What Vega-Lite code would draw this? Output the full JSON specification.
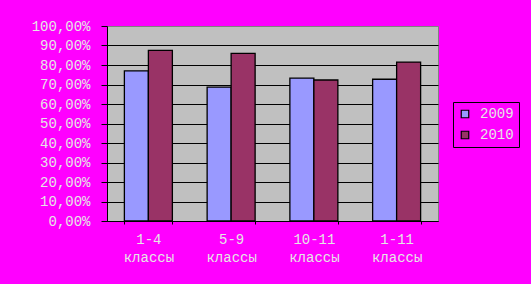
{
  "$schema": "https://vega.github.io/schema/vega-lite/v6.json",
  "autosize": "none",
  "width": 331,
  "height": 195,
  "padding": {"left": 107, "top": 26, "right": 93, "bottom": 63},
  "background": "#FF00FF",
  "data": {
    "values": [
      {"group": "1-4 классы", "year": "2009", "value": 0.77},
      {"group": "1-4 классы", "year": "2010", "value": 0.875},
      {"group": "5-9 классы", "year": "2009", "value": 0.687},
      {"group": "5-9 классы", "year": "2010", "value": 0.86},
      {"group": "10-11 классы", "year": "2009", "value": 0.733},
      {"group": "10-11 классы", "year": "2010", "value": 0.723},
      {"group": "1-11 классы", "year": "2009", "value": 0.727},
      {"group": "1-11 классы", "year": "2010", "value": 0.815}
    ]
  },
  "mark": {"type": "bar", "stroke": "#000000", "strokeWidth": 1.3},
  "encoding": {
    "x": {
      "field": "group",
      "type": "nominal",
      "sort": null,
      "scale": {"paddingInner": 0.42, "paddingOuter": 0.21},
      "axis": {
        "title": null,
        "labelAngle": 0,
        "labelExpr": "split(datum.label, ' ')",
        "labelLineHeight": 18,
        "labelPadding": 8,
        "tickBand": "extent",
        "tickSize": 3,
        "tickColor": "#000000",
        "domainColor": "#000000",
        "grid": false
      }
    },
    "xOffset": {"field": "year", "type": "nominal", "scale": {"paddingInner": 0, "paddingOuter": 0}},
    "y": {
      "field": "value",
      "type": "quantitative",
      "scale": {"domain": [0, 1], "nice": false},
      "axis": {
        "title": null,
        "values": [0, 0.1, 0.2, 0.3, 0.4, 0.5, 0.6, 0.7, 0.8, 0.9, 1],
        "labelExpr": "replace(format(datum.value, '.2%'), '.', ',')",
        "tickSize": 6,
        "tickColor": "#000000",
        "domainColor": "#000000",
        "labelPadding": 11,
        "grid": true,
        "gridColor": {"condition": {"test": "datum.value === 1", "value": "#808080"}, "value": "#000000"},
        "gridOpacity": 1,
        "gridWidth": 1
      }
    },
    "color": {
      "field": "year",
      "type": "nominal",
      "scale": {"domain": ["2009", "2010"], "range": ["#9999FF", "#993366"]},
      "legend": {
        "title": null,
        "orient": "none",
        "legendX": 346,
        "legendY": 76,
        "direction": "vertical",
        "strokeColor": "#000000",
        "fillColor": "#FF00FF",
        "padding": 5,
        "rowPadding": 7,
        "symbolType": "square",
        "symbolSize": 56,
        "symbolStrokeColor": "#000000",
        "symbolStrokeWidth": 1.2,
        "symbolOpacity": 1,
        "labelOffset": 8
      }
    }
  },
  "config": {
    "font": "Liberation Mono",
    "view": {"fill": "#C0C0C0", "stroke": "#808080"},
    "axis": {"labelFont": "Liberation Mono", "labelFontSize": 14, "labelColor": "#E6E6E6"},
    "legend": {"labelFont": "Liberation Mono", "labelFontSize": 14, "labelColor": "#E6E6E6"}
  }
}
